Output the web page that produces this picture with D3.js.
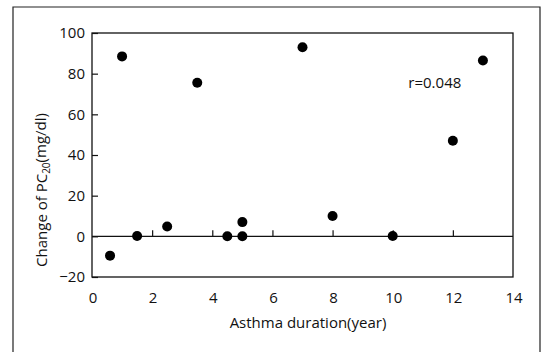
<!DOCTYPE html>
<html>
<head>
<meta charset="utf-8">
<script src="https://cdn.jsdelivr.net/npm/d3@7"></script>
<style>
  html, body { margin: 0; padding: 0; background: #fff; }
  svg { display: block; }
  text { font-family: "Open Sans", "Liberation Sans", Arial, sans-serif; fill: #111; }
</style>
</head>
<body>
<div id="chart"></div>
<script>
// asthma duration (year) vs change of PC20 (mg/dl)
const duration = [0.6, 1.0, 1.5, 2.5, 3.5, 4.5, 5.0, 5.0, 7.0, 8.0, 10.0, 12.0, 13.0];
const changePC20 = [-9.5, 88.5, 0.2, 4.8, 75.5, 0, 7, 0, 93, 10, 0.2, 47, 86.5];
const xTicks = [0, 2, 4, 6, 8, 10, 12, 14];
const yTicks = [-20, 0, 20, 40, 60, 80, 100];
const corrLabel = 'r=0.048';

const W = 542, H = 352;
const plot = { left: 92, right: 513, top: 33, bottom: 277 };

const svg = d3.select('#chart').append('svg')
  .attr('width', W).attr('height', H);

// outer figure border (runs off the bottom of the scan)
svg.append('path')
  .attr('d', `M13,${H + 2}V7H540V${H + 2}`)
  .attr('fill', 'none').attr('stroke', '#222').attr('stroke-width', 1.2);

const x = d3.scaleLinear().domain([0, 14]).range([plot.left, plot.right]);
const y = d3.scaleLinear().domain([-20, 100]).range([plot.bottom, plot.top]);

// plot frame
svg.append('rect')
  .attr('x', plot.left).attr('y', plot.top)
  .attr('width', plot.right - plot.left).attr('height', plot.bottom - plot.top)
  .attr('fill', 'none').attr('stroke', '#111').attr('stroke-width', 1.3);

// y axis: inward ticks, labels on the left
const yAxis = d3.axisRight(y).tickValues(yTicks).tickSize(6).tickFormat('');
svg.append('g').attr('transform', `translate(${plot.left},0)`).call(yAxis)
  .call(g => g.select('.domain').remove())
  .call(g => g.selectAll('line').attr('stroke', '#111').attr('stroke-width', 1.2));

svg.append('g').selectAll('text').data(yTicks).join('text')
  .attr('x', plot.left - 7).attr('y', d => y(d))
  .attr('dy', '0.36em').attr('text-anchor', 'end')
  .style('font-size', '15px')
  .text(d => d < 0 ? '\u2212' + Math.abs(d) : d);

// zero line with upward ticks
svg.append('line')
  .attr('x1', plot.left).attr('x2', plot.right)
  .attr('y1', y(0)).attr('y2', y(0))
  .attr('stroke', '#111').attr('stroke-width', 1.3);

const xAxis = d3.axisTop(x).tickValues(xTicks.filter(d => d > 0 && d < 14)).tickSize(6).tickFormat('');
svg.append('g').attr('transform', `translate(0,${y(0)})`).call(xAxis)
  .call(g => g.select('.domain').remove())
  .call(g => g.selectAll('line').attr('stroke', '#111').attr('stroke-width', 1.2));

svg.append('g').selectAll('text').data(xTicks).join('text')
  .attr('x', d => x(d) + 1).attr('y', plot.bottom + 21)
  .attr('dy', '0.36em').attr('text-anchor', 'middle')
  .style('font-size', '15px')
  .text(d => d);

// points
svg.append('g').selectAll('circle').data(duration).join('circle')
  .attr('cx', (d, i) => x(d))
  .attr('cy', (d, i) => y(changePC20[i]))
  .attr('r', 5)
  .attr('fill', '#000');

// correlation label
svg.append('text')
  .attr('x', x(11.4)).attr('y', y(75.5))
  .attr('dy', '0.36em').attr('text-anchor', 'middle')
  .style('font-size', '15px')
  .text(corrLabel);

// axis titles
svg.append('text')
  .attr('x', 308).attr('y', 323)
  .attr('dy', '0.36em').attr('text-anchor', 'middle')
  .style('font-size', '15px')
  .text('Asthma duration(year)');

const yTitle = svg.append('text')
  .attr('transform', 'translate(42,190) rotate(-90)')
  .attr('dy', '0.36em').attr('text-anchor', 'middle')
  .style('font-size', '15px');
yTitle.append('tspan').text('Change of PC');
yTitle.append('tspan').attr('dy', '0.3em').style('font-size', '10px').text('20');
yTitle.append('tspan').attr('dy', '-0.3em').text('(mg/dl)');
</script>
</body>
</html>
